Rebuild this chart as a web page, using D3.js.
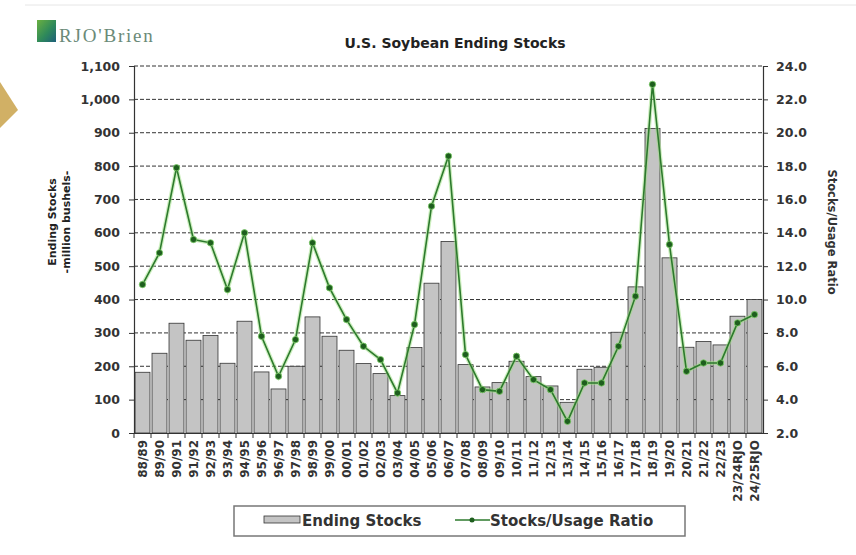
<!DOCTYPE html>
<html><head><meta charset="utf-8">
<script src="https://cdn.jsdelivr.net/npm/d3@7"></script>
<style>body{margin:0;background:#fff;}svg{font-family:"DejaVu Sans",Verdana,sans-serif;}</style>
</head><body><svg id="c" width="856" height="555"></svg>
<script>
const categories = ["88/89","89/90","90/91","91/92","92/93","93/94","94/95","95/96","96/97","97/98","98/99","99/00","00/01","01/02","02/03","03/04","04/05","05/06","06/07","07/08","08/09","09/10","10/11","11/12","12/13","13/14","14/15","15/16","16/17","17/18","18/19","19/20","20/21","21/22","22/23","23/24RJO","24/25RJO"];
const endingStocks = [182,239,329,278,292,209,335,183,132,200,348,290,248,208,178,112,256,449,574,205,138,151,215,169,141,92,191,197,302,438,913,525,257,274,264,350,400];
const stocksUsage = [10.9,12.8,17.9,13.6,13.4,10.6,14.0,7.8,5.4,7.6,13.4,10.7,8.8,7.2,6.4,4.4,8.5,15.6,18.6,6.7,4.6,4.5,6.6,5.2,4.6,2.7,5.0,5.0,7.2,10.2,22.9,13.3,5.7,6.2,6.2,8.6,9.1];
const leftTicks = [0,100,200,300,400,500,600,700,800,900,1000,1100];
const rightTicks = [2,4,6,8,10,12,14,16,18,20,22,24];

const svg = d3.select("#c");
const L=134, R=763, T=66, B=433;
const F = "'DejaVu Sans',Verdana,sans-serif";

// decorations
svg.append("line").attr("x1",25).attr("x2",856).attr("y1",5).attr("y2",5).attr("stroke","#e6e6e6");
svg.append("path").attr("d","M0,82 L18,110 L0,128 Z").attr("fill","#c9a24a").attr("opacity",0.85);
const lg = svg.append("defs").append("linearGradient").attr("id","lg").attr("x1","0").attr("y1","0").attr("x2","1").attr("y2","1");
lg.append("stop").attr("offset","0").attr("stop-color","#6ab040");
lg.append("stop").attr("offset","0.55").attr("stop-color","#2f8a5a");
lg.append("stop").attr("offset","1").attr("stop-color","#1d5f7a");
svg.append("rect").attr("x",37).attr("y",20).attr("width",19).attr("height",22).attr("fill","url(#lg)");
svg.append("text").attr("x",59).attr("y",42).attr("font-family","'Liberation Serif',serif").attr("font-size",19).attr("letter-spacing",1.8).attr("fill","#6b8a78").text("RJO'Brien");

svg.append("text").attr("x",455).attr("y",48).attr("text-anchor","middle").attr("font-weight","bold").attr("font-size",14).attr("fill","#222").text("U.S. Soybean Ending Stocks");

const x = d3.scaleBand().domain(categories).range([L,R]).paddingInner(0.12).paddingOuter(0.06);
const yL = d3.scaleLinear().domain([0,1100]).range([B,T]);
const yR = d3.scaleLinear().domain([2,24]).range([B,T]);

// grid
svg.append("g").selectAll("line").data(leftTicks.filter(d=>d>0)).join("line")
  .attr("x1",L).attr("x2",R).attr("y1",d=>yL(d)).attr("y2",d=>yL(d))
  .attr("stroke","#333").attr("stroke-width",1).attr("stroke-dasharray","4,2");

// bars
svg.append("g").selectAll("rect").data(categories).join("rect")
  .attr("x",d=>x(d)).attr("width",x.bandwidth())
  .attr("y",(d,i)=>yL(endingStocks[i])).attr("height",(d,i)=>B-yL(endingStocks[i]))
  .attr("fill","#c4c4c4").attr("stroke","#333").attr("stroke-width",0.8);

// axes
const axL = svg.append("g").attr("transform",`translate(${L},0)`)
  .call(d3.axisLeft(yL).tickValues(leftTicks).tickFormat(d3.format(",")).tickSize(5).tickPadding(9));
const axR = svg.append("g").attr("transform",`translate(${R},0)`)
  .call(d3.axisRight(yR).tickValues(rightTicks).tickFormat(d3.format(".1f")).tickSize(5).tickPadding(8));
const axB = svg.append("g").attr("transform",`translate(0,${B})`)
  .call(d3.axisBottom(x).tickSize(5).tickPadding(6).tickSizeOuter(0));
[axL,axR,axB].forEach(a=>{a.select(".domain").attr("stroke","#333").attr("stroke-width",1.2);a.selectAll(".tick line").attr("stroke","#333");a.selectAll("text").attr("font-size",12.5).attr("font-weight","bold").attr("fill","#333").attr("font-family",F);});
axB.selectAll(".tick line").remove();
axB.append("g").selectAll("line").data(categories).join("line")
  .attr("x1",d=>x(d)-x.step()*x.paddingInner()/2).attr("x2",d=>x(d)-x.step()*x.paddingInner()/2).attr("y1",0).attr("y2",5).attr("stroke","#333");
axB.selectAll(".tick text").attr("font-size",12).attr("transform","rotate(-90)").attr("text-anchor","end")
  .attr("x",-7).attr("y",0).attr("dy","0.35em");
axL.selectAll(".tick").filter(d=>d===0).select("line").remove();

// line
const line = d3.line().x((d,i)=>x(categories[i])+x.bandwidth()/2).y(d=>yR(d));
svg.append("path").datum(stocksUsage).attr("d",line).attr("fill","none").attr("stroke","#9be07f").attr("stroke-width",4).attr("opacity",0.5);
svg.append("path").datum(stocksUsage).attr("d",line).attr("fill","none").attr("stroke","#2d7a2d").attr("stroke-width",1.6);
svg.append("g").selectAll("circle").data(stocksUsage).join("circle")
  .attr("cx",(d,i)=>x(categories[i])+x.bandwidth()/2).attr("cy",d=>yR(d)).attr("r",3.2)
  .attr("fill","#1e5e1e").attr("stroke","#7fd06a").attr("stroke-width",0.8);

// axis titles
const lt = svg.append("text").attr("transform","translate(56,222) rotate(-90)").attr("text-anchor","middle").attr("font-weight","bold").attr("font-size",11).attr("fill","#222");
lt.append("tspan").attr("x",0).attr("dy",0).text("Ending Stocks");
lt.append("tspan").attr("x",0).attr("dy",14).text("-million bushels-");
svg.append("text").attr("transform","translate(828,232) rotate(90)").attr("text-anchor","middle").attr("font-weight","bold").attr("font-size",11.5).attr("fill","#333").text("Stocks/Usage Ratio");

// legend
const lgd = svg.append("g");
lgd.append("rect").attr("x",234).attr("y",506).attr("width",451).attr("height",30).attr("fill","#fff").attr("stroke","#777").attr("stroke-width",1.5);
lgd.append("rect").attr("x",264).attr("y",516).attr("width",36).attr("height",7).attr("fill","#c4c4c4").attr("stroke","#333").attr("stroke-width",0.8);
lgd.append("text").attr("x",302).attr("y",526).attr("font-size",15).attr("font-weight","bold").attr("fill","#333").text("Ending Stocks");
lgd.append("line").attr("x1",455).attr("x2",490).attr("y1",520).attr("y2",520).attr("stroke","#2d7a2d").attr("stroke-width",1.6);
lgd.append("circle").attr("cx",472).attr("cy",520).attr("r",2.5).attr("fill","#1e5e1e");
lgd.append("text").attr("x",490).attr("y",526).attr("font-size",15).attr("font-weight","bold").attr("fill","#333").text("Stocks/Usage Ratio");
</script></body></html>
